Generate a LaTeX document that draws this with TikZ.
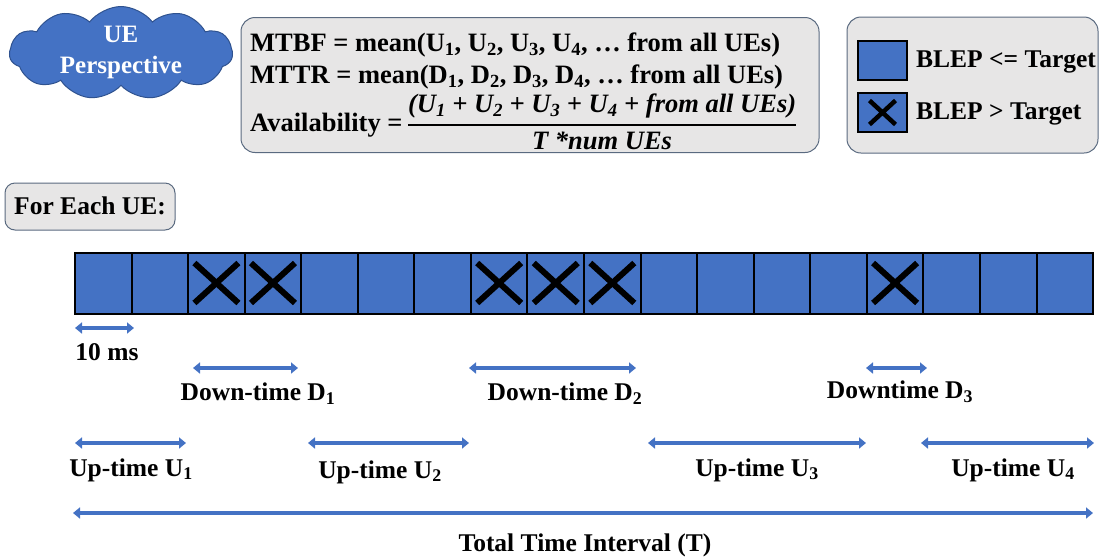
\documentclass[tikz,border=0pt]{standalone}
\usepackage{fontspec}
\setmainfont{Liberation Serif}
\usetikzlibrary{shapes.symbols,arrows.meta}
\definecolor{ublue}{HTML}{4472C4}
\definecolor{cloudedge}{HTML}{2F528F}
\definecolor{boxgray}{HTML}{E7E6E6}
\definecolor{boxedge}{HTML}{5A6A80}
\tikzset{
  txt/.style={font=\fontsize{25.5}{30}\selectfont\bfseries, inner sep=0pt},
  ftxt/.style={font=\fontsize{26.5}{30}\selectfont\bfseries, inner sep=0pt},
  panel/.style={draw=boxedge, line width=1pt, fill=boxgray, rounded corners=14pt, inner sep=0pt},
  cell/.style={draw=black, line width=2pt, fill=ublue, minimum width=56.56pt, minimum height=61pt, inner sep=0pt},
  dimline/.style={draw=ublue, line width=4pt, {Triangle[width=11pt,length=7pt]}-{Triangle[width=11pt,length=7pt]}},
  cross/.style={draw=black, line width=6pt}
}
\begin{document}
\begin{tikzpicture}[x=1pt,y=-1pt]
\useasboundingbox (0,0) rectangle (1101,558);

% cloud
\node[cloud, cloud puffs=11, cloud puff arc=105, aspect=2.4, fill=ublue, draw=cloudedge, line width=1pt,
      minimum width=223pt, minimum height=93pt, inner sep=0pt] (cloud) at (121,53) {};
\node[txt, text=white, align=center, font=\fontsize{25}{31}\selectfont\bfseries] (cloudtxt) at (121,52) {UE\\Perspective};

% formula panel
\node[panel, minimum width=578pt, minimum height=135pt] (fbox) at (530,85) {};
\node[ftxt, anchor=west] (mtbf) at (250,45) {MTBF = mean(U\textsubscript{1}, U\textsubscript{2}, U\textsubscript{3}, U\textsubscript{4}, … from all UEs)};
\node[ftxt, anchor=west] (mttr) at (250,77) {MTTR = mean(D\textsubscript{1}, D\textsubscript{2}, D\textsubscript{3}, D\textsubscript{4}, … from all UEs)};
\node[ftxt, anchor=west] (avail) at (250,122) {Availability\ =\,$\displaystyle{\mbox{\bfseries\itshape (U\textsubscript{1} + U\textsubscript{2} + U\textsubscript{3} + U\textsubscript{4} + from all UEs)}\above 2pt \mbox{\bfseries\itshape T *num UEs}}$};

% legend panel
\node[panel, minimum width=251pt, minimum height=136pt] (lbox) at (972.5,85) {};
\node[cell, minimum width=49pt, minimum height=39pt] (lok) at (882.5,60) {};
\node[cell, minimum width=49pt, minimum height=39pt] (lbad) at (882.5,112.5) {};
\draw[cross, line width=4.5pt] (lbad.center) +(-13,-12) -- +(13,12);
\draw[cross, line width=4.5pt] (lbad.center) +(-13,12) -- +(13,-12);
\node[txt, anchor=west] (lokt) at (916,62) {BLEP <= Target};
\node[txt, anchor=west] (lbadt) at (916,114) {BLEP > Target};

% For each UE
\node[panel, rounded corners=10pt, minimum width=170pt, minimum height=47pt] (febox) at (90,206.5) {};
\node[txt] (fetxt) at (90,206) {For Each UE:};

% bar of cells
\foreach \i in {0,...,17} {
  \node[cell] (c\i) at ({75+56.56*(\i+0.5)},283) {};
}
\foreach \i in {2,3,7,8,9,14} {
  \draw[cross] (c\i.center) +(-22,-20) -- +(22,20);
  \draw[cross] (c\i.center) +(-22,20) -- +(22,-20);
}

% dimension arrows
\coordinate (ms0) at (75,328);   \coordinate (ms1) at (134,328);
\coordinate (d1a) at (193,368);  \coordinate (d1b) at (298,368);
\coordinate (d2a) at (469,368);  \coordinate (d2b) at (636,368);
\coordinate (d3a) at (866,368);  \coordinate (d3b) at (927,368);
\coordinate (u1a) at (75,443);   \coordinate (u1b) at (186,443);
\coordinate (u2a) at (308,443);  \coordinate (u2b) at (469,443);
\coordinate (u3a) at (648,443);  \coordinate (u3b) at (866,443);
\coordinate (u4a) at (921,443);  \coordinate (u4b) at (1094,443);
\coordinate (ta) at (73,513);    \coordinate (tb) at (1093,513);
\draw[dimline] (ms0) -- (ms1);
\draw[dimline] (d1a) -- (d1b);
\draw[dimline] (d2a) -- (d2b);
\draw[dimline] (d3a) -- (d3b);
\draw[dimline] (u1a) -- (u1b);
\draw[dimline] (u2a) -- (u2b);
\draw[dimline] (u3a) -- (u3b);
\draw[dimline] (u4a) -- (u4b);
\draw[dimline] (ta) -- (tb);

% labels
\node[txt] (lms) at (107,352) {10 ms};
\node[txt] (ld1) at (258,394) {Down-time D\textsubscript{1}};
\node[txt] (ld2) at (565,394) {Down-time D\textsubscript{2}};
\node[txt] (ld3) at (900,392) {Downtime D\textsubscript{3}};
\node[txt] (lu1) at (131,470) {Up-time U\textsubscript{1}};
\node[txt] (lu2) at (380,472) {Up-time U\textsubscript{2}};
\node[txt] (lu3) at (757,470) {Up-time U\textsubscript{3}};
\node[txt] (lu4) at (1013,470) {Up-time U\textsubscript{4}};
\node[txt] (ltot) at (585,545) {Total Time Interval (T)};
\end{tikzpicture}
\end{document}
